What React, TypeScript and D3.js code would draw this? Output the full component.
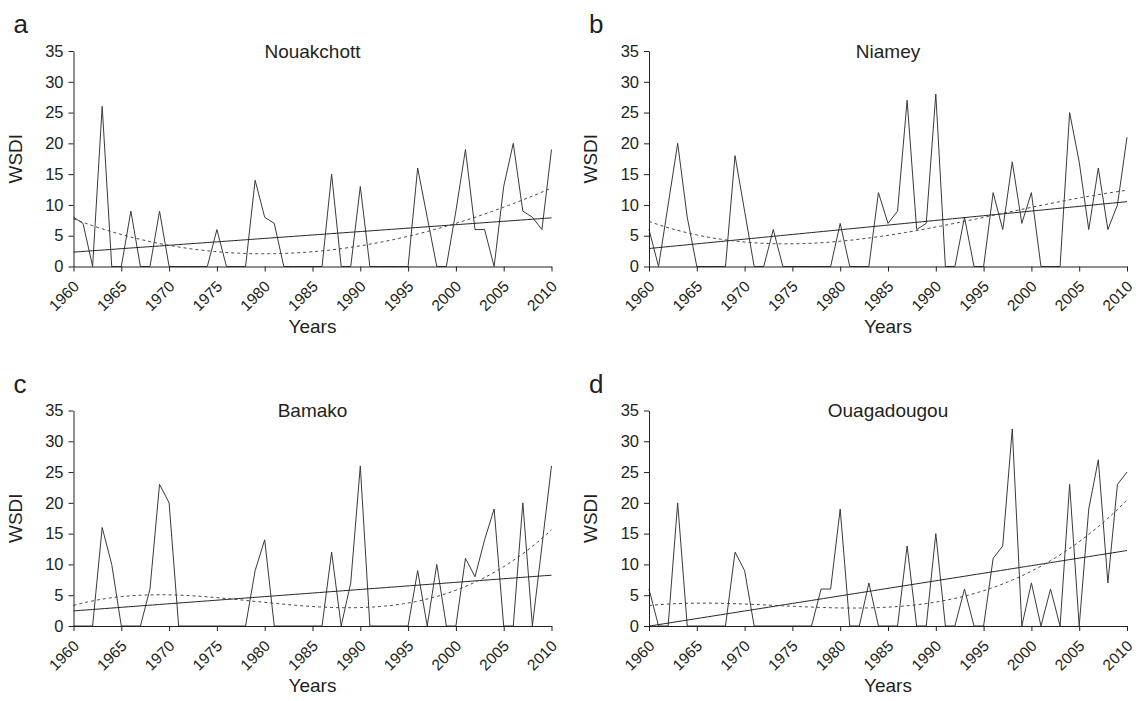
import React, { useRef, useEffect } from "react";
import * as d3 from "d3";

// WSDI per year, 1960-2010
const years = d3.range(1960, 2011);

const nouakchott = [
  8, 7, 0, 26, 0, 0, 9, 0, 0, 9,
  0, 0, 0, 0, 0, 6, 0, 0, 0, 14,
  8, 7, 0, 0, 0, 0, 0, 15, 0, 0,
  13, 0, 0, 0, 0, 0, 16, 8, 0, 0,
  9, 19, 6, 6, 0, 13, 20, 9, 8, 6,
  19,
];
const niamey = [
  6, 0, 10, 20, 8, 0, 0, 0, 0, 18,
  9, 0, 0, 6, 0, 0, 0, 0, 0, 0,
  7, 0, 0, 0, 12, 7, 9, 27, 6, 7,
  28, 0, 0, 8, 0, 0, 12, 6, 17, 7,
  12, 0, 0, 0, 25, 17, 6, 16, 6, 10,
  21,
];
const bamako = [
  0, 0, 0, 16, 10, 0, 0, 0, 6, 23,
  20, 0, 0, 0, 0, 0, 0, 0, 0, 9,
  14, 0, 0, 0, 0, 0, 0, 12, 0, 7,
  26, 0, 0, 0, 0, 0, 9, 0, 10, 0,
  0, 11, 8, 14, 19, 0, 0, 20, 0, 13,
  26,
];
const ouagadougou = [
  6, 0, 0, 20, 0, 0, 0, 0, 0, 12,
  9, 0, 0, 0, 0, 0, 0, 0, 6, 6,
  19, 0, 0, 7, 0, 0, 0, 13, 0, 0,
  15, 0, 0, 6, 0, 0, 11, 13, 32, 0,
  7, 0, 6, 0, 23, 0, 19, 27, 7, 23,
  25,
];

const titles = ["Nouakchott", "Niamey", "Bamako", "Ouagadougou"];
const letters = ["a", "b", "c", "d"];
const series = [nouakchott, niamey, bamako, ouagadougou];
const xTicks = [1960, 1965, 1970, 1975, 1980, 1985, 1990, 1995, 2000, 2005, 2010];
const yTicks = [0, 5, 10, 15, 20, 25, 30, 35];

// least squares polynomial fit, t scaled around 1985
function polyFit(xs: number[], ys: number[], deg: number) {
  const n = deg + 1;
  const A = d3.range(n).map(() => new Array(n + 1).fill(0));
  xs.forEach((x, k) => {
    const t = (x - 1985) / 25;
    for (let i = 0; i < n; i++) {
      for (let j = 0; j < n; j++) A[i][j] += Math.pow(t, i + j);
      A[i][n] += ys[k] * Math.pow(t, i);
    }
  });
  for (let i = 0; i < n; i++) {
    let p = i;
    for (let r = i + 1; r < n; r++) if (Math.abs(A[r][i]) > Math.abs(A[p][i])) p = r;
    [A[i], A[p]] = [A[p], A[i]];
    for (let r = 0; r < n; r++) {
      if (r === i) continue;
      const f = A[r][i] / A[i][i];
      for (let c = i; c <= n; c++) A[r][c] -= f * A[i][c];
    }
  }
  const coef = A.map((row, i) => row[n] / row[i]);
  return (x: number) => {
    const t = (x - 1985) / 25;
    return coef.reduce((s, c, i) => s + c * Math.pow(t, i), 0);
  };
}

const FONT = "'Liberation Sans', Arial, Helvetica, sans-serif";
const INK = "#231f20";

const App = () => {
  const ref = useRef<SVGSVGElement>(null);

  useEffect(() => {
    document.body.style.margin = "0";
    const width = 1139;
    const height = 701;
    const plotW = 478;
    const plotH = 215.5;
    const lefts = [73.5, 649];
    const tops = [51, 410.5];

    const svg = d3.select(ref.current).attr("width", width).attr("height", height);
    svg.selectAll("*").remove();
    svg.append("rect").attr("width", width).attr("height", height).attr("fill", "white");

    series.forEach((values, idx) => {
      const left = lefts[idx % 2];
      const top = tops[Math.floor(idx / 2)];

      const x = d3.scaleLinear().domain([1960, 2010]).range([0, plotW]);
      const y = d3.scaleLinear().domain([0, 35]).range([plotH, 0]);

      const g = svg.append("g").attr("transform", `translate(${left},${top})`);

      // data line
      const line = d3
        .line<number>()
        .x((d, i) => x(years[i]))
        .y((d) => y(d));
      g.append("path")
        .datum(values)
        .attr("d", line)
        .attr("fill", "none")
        .attr("stroke", "#3a3a3a")
        .attr("stroke-width", 1);

      // trends: linear + 3rd order polynomial
      const lin = polyFit(years, values, 1);
      const cub = polyFit(years, values, 3);
      const fine = d3.range(1960, 2010.001, 0.25);
      const trend = (f: (v: number) => number) =>
        d3
          .line<number>()
          .x((d) => x(d))
          .y((d) => y(f(d)))(fine);
      g.append("path")
        .attr("d", trend(lin))
        .attr("fill", "none")
        .attr("stroke", INK)
        .attr("stroke-width", 1);
      g.append("path")
        .attr("d", trend(cub))
        .attr("fill", "none")
        .attr("stroke", "#444")
        .attr("stroke-width", 1)
        .attr("stroke-dasharray", "3,3");

      // axes
      const yAxis = g.append("g").call(d3.axisLeft(y).tickValues(yTicks).tickSize(5).tickSizeOuter(0));
      yAxis.select(".domain").attr("stroke", INK);
      yAxis.selectAll("line").attr("stroke", INK);
      yAxis
        .selectAll("text")
        .attr("x", -10)
        .style("font-family", FONT)
        .style("font-size", "16.5px")
        .attr("fill", INK);

      const xAxis = g
        .append("g")
        .attr("transform", `translate(0,${plotH})`)
        .call(d3.axisBottom(x).tickValues(xTicks).tickFormat(d3.format("d")).tickSize(5).tickSizeOuter(0));
      xAxis.select(".domain").attr("stroke", INK);
      xAxis.selectAll("line").attr("stroke", INK);
      xAxis
        .selectAll("text")
        .attr("y", 0)
        .attr("dy", 0)
        .attr("transform", "translate(6,21) rotate(-45)")
        .style("text-anchor", "end")
        .style("font-family", FONT)
        .style("font-size", "15.5px")
        .attr("fill", INK);

      g.append("text")
        .attr("x", plotW / 2)
        .attr("y", 0)
        .attr("dy", "0.35em")
        .attr("text-anchor", "middle")
        .style("font-family", FONT)
        .style("font-size", "19px")
        .attr("fill", INK)
        .text(titles[idx]);

      g.append("text")
        .attr("transform", `translate(-52,${plotH / 2}) rotate(-90)`)
        .attr("text-anchor", "middle")
        .style("font-family", FONT)
        .style("font-size", "19px")
        .attr("fill", INK)
        .text("WSDI");

      g.append("text")
        .attr("x", plotW / 2)
        .attr("y", plotH + 66)
        .attr("text-anchor", "middle")
        .style("font-family", FONT)
        .style("font-size", "19px")
        .attr("fill", INK)
        .text("Years");

      g.append("text")
        .attr("x", -60)
        .attr("y", -18)
        .style("font-family", FONT)
        .style("font-size", "26px")
        .attr("fill", INK)
        .text(letters[idx]);
    });
  }, []);

  return <svg ref={ref} style={{ display: "block" }}></svg>;
};

export default App;
